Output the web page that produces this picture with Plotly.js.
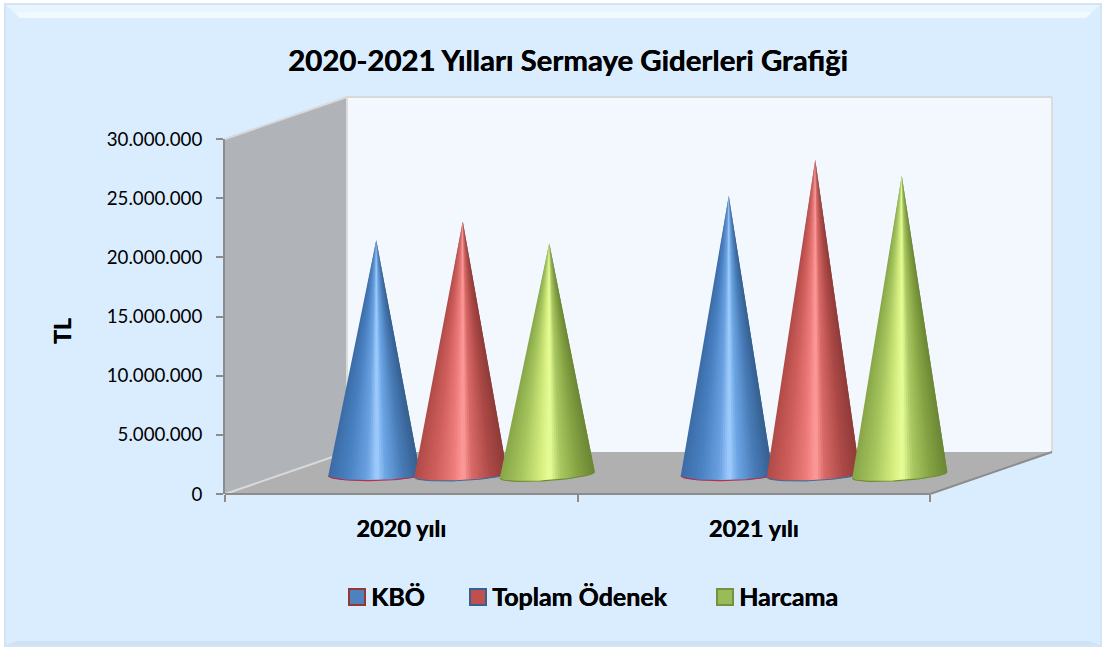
<!DOCTYPE html>
<html><head><meta charset="utf-8">
<script src="https://cdn.plot.ly/plotly-3.0.1.min.js"></script>
<style>html,body{margin:0;padding:0;background:#fff;overflow:hidden}</style>
</head><body><div id="chart" style="width:1103px;height:648px"></div>
<script>
// ---- data ----
const categories = ['2020 yılı', '2021 yılı'];
const seriesNames = ['KBÖ', 'Toplam Ödenek', 'Harcama'];
const kbo = [19850000, 23600000];
const toplamOdenek = [21450000, 26650000];
const harcama = [19600000, 25300000];
const yTicks = [0, 5000000, 10000000, 15000000, 20000000, 25000000, 30000000];

// ---- styling ----
const FONT = 'Lato, Carlito, Calibri, sans-serif';
const HEAVY = '0.4px 0 0 #000';
const seriesValues = [kbo, toplamOdenek, harcama];
const shades = [
  [[0,'#3c6ca6'],[0.22,'#4a82c4'],[0.42,'#6aa2e0'],[0.53,'#a2ceff'],[0.62,'#6ca6e4'],[0.82,'#477ab6'],[1,'#355f8e']],
  [[0,'#b04b48'],[0.22,'#cf5e5b'],[0.42,'#ec7c7b'],[0.53,'#ff9c9c'],[0.62,'#d86a68'],[0.82,'#ad4a47'],[1,'#8e3b39']],
  [[0,'#88a648'],[0.22,'#a6c65e'],[0.42,'#d4ec7e'],[0.53,'#e8ff98'],[0.64,'#aac862'],[0.82,'#86a443'],[1,'#6b8635']]
];
const baseLines = ['#b5304a', '#3f6d9f', '#6f8a38'];
const swatchFill = ['#4f81bd', '#c0504d', '#9bbb59'];
const swatchLine = ['#953735', '#376092', '#76923c'];
const legendX = [349, 470, 717];
const halfWidthPx = [46, 46.5, 47.5];
const tiltPx = [0.8, 2.2, 3.2];
const BANDS = 36;

// axis frame in pixels
const L = 225, R = 930, PR = 955, B = 494, T = 139, W = 1103, H = 648;
const pxPerCat = (R - L) / categories.length;
const pxPerVal = (B - T) / 30000000;
const depthX = 122, depthY = 42;
const px = x => (x - L) / (PR - L), py = y => (B - y) / (B - T);
const path = (pts, close) => 'M' + pts.map(p => px(p[0]) + ',' + py(p[1])).join('L') + (close ? 'Z' : '');
const shp = (pts, fill, extra) => Object.assign({type:'path', xref:'paper', yref:'paper', layer:'below', path:path(pts, true),
  fillcolor:fill, line:{color:'rgba(0,0,0,0)', width:0}}, extra||{});
const edge = (pts, color) => ({type:'path', xref:'paper', yref:'paper', layer:'below', path:path(pts, false),
  line:{color:color, width:2}});
const rectp = (x0,y0,x1,y1,fill) => shp([[x0,y0],[x1,y0],[x1,y1],[x0,y1]], fill);

function hex(c){return [1,3,5].map(i=>parseInt(c.substr(i,2),16));}
function shade(stops,u){
  for(let i=1;i<stops.length;i++){ if(u<=stops[i][0]){
    const a=stops[i-1],b=stops[i],t=(u-a[0])/(b[0]-a[0]),ca=hex(a[1]),cb=hex(b[1]);
    return 'rgb('+ca.map((v,k)=>Math.round(v+(cb[k]-v)*t)).join(',')+')';
  }} return stops[stops.length-1][1];
}

// cones: overlapping wedges from the tip to the front arc of the base, built from values through the axes
const offsetCat = 86.5 / pxPerCat, depthCat = (depthX / 2 - 1.5) / pxPerCat, tipShift = 2 / pxPerCat;
const floorVal = 19 / pxPerVal, semiMinor = 5.6 / pxPerVal;
const traces = [];
seriesNames.forEach((name, s) => {
  const rx = halfWidthPx[s] / pxPerCat, tilt = tiltPx[s] / pxPerVal;
  const arc = (cx, u) => { const v = 2*u-1;
    return [cx + rx*v, floorVal - semiMinor*Math.sqrt(Math.max(0,1-v*v)) + tilt*v]; };
  for (let b = 0; b < BANDS; b++) {
    const xs = [], ys = [], end = Math.min(1, (b+2)/BANDS), start = b/BANDS;
    seriesValues[s].forEach((val, c) => {
      const cx = c + 0.5 + depthCat + (s-1)*offsetCat;
      xs.push(cx + tipShift); ys.push(floorVal + val);
      for (let k = 0; k <= 6; k++) { const p = arc(cx, start + (end-start)*k/6); xs.push(p[0]); ys.push(p[1]); }
      xs.push(cx + tipShift); ys.push(floorVal + val);
      xs.push(null); ys.push(null);
    });
    const col = shade(shades[s], (b+0.5)/BANDS);
    traces.push({type:'scatter', mode:'lines', x:xs, y:ys, fill:'toself', fillcolor:col, name:name,
      line:{color:col, width:0}, showlegend:false, hoverinfo:'skip'});
  }
  const xs = [], ys = [];
  seriesValues[s].forEach((val, c) => {
    const cx = c + 0.5 + depthCat + (s-1)*offsetCat;
    for (let k = 0; k <= 40; k++) { const p = arc(cx, k/40); xs.push(p[0]); ys.push(p[1]); }
    xs.push(null); ys.push(null);
  });
  traces.push({type:'scatter', mode:'lines', x:xs, y:ys, name:name, line:{color:baseLines[s], width:1.1},
    showlegend:false, hoverinfo:'skip'});
});

// chart frame, bevel, walls, floor
const bg = '#daedff';
const x2 = R + depthX, t2 = T - depthY, b2 = B - depthY;
const shapes = [
  rectp(4,3,1102,647,'#d3e4f6'),
  rectp(6,5,1100,645,bg),
  shp([[6,5],[1100,5],[1086,18],[20,18]],'#e6f5ff'),
  shp([[14,12],[1092,12],[1086,18],[20,18]],'#eefaff'),
  shp([[6,645],[1100,645],[1088,641],[18,641]],'#cfe2f4'),
  shp([[L,T],[L+depthX,t2],[L+depthX,b2],[L,B]],'#b0b3b7'),
  shp([[L+depthX,t2],[x2,t2],[x2,b2],[L+depthX,b2]],'#f3f8fe'),
  shp([[L,B],[L+depthX,b2],[x2,b2],[R,B]],'#b0b0b0'),
  edge([[L,T],[L+depthX,t2],[x2,t2]],'#d9d9d9'),
  edge([[L+depthX,t2],[L+depthX,b2]],'#dcdcdc'),
  edge([[x2,t2],[x2,b2]],'#dcdcdc'),
  edge([[L,B],[L+depthX,b2]],'#d9d9d9'),
  edge([[L,B],[R,B]],'#8c8c8c'),
  edge([[R,B],[x2,b2]],'#8c8c8c')
];

const annotations = [{xref:'paper', yref:'paper', x:px(62), y:py(331), text:'<b>TL</b>', textangle:-90, showarrow:false,
  font:{family:FONT, size:23, color:'#000', shadow:HEAVY}, xanchor:'center', yanchor:'middle'}];
seriesNames.forEach((name,s)=>{
  shapes.push(Object.assign(shp([[legendX[s],589],[legendX[s]+16,589],[legendX[s]+16,605],[legendX[s],605]],swatchFill[s]),
    {layer:'above', line:{color:swatchLine[s], width:2}}));
  annotations.push({xref:'paper', yref:'paper', x:px(legendX[s]+23), y:py(596), text:'<b>'+name+'</b>', showarrow:false,
    xanchor:'left', yanchor:'middle', xshift:-3, font:{family:FONT, size:25, color:'#000', shadow:HEAVY}});
});

const layout = {
  width:W, height:H, paper_bgcolor:'#ffffff', plot_bgcolor:'rgba(0,0,0,0)', showlegend:false, separators:',.',
  margin:{l:L, r:W-PR, t:T, b:H-B, pad:0}, hovermode:false,
  title:{text:'<b>2020-2021 Yılları Sermaye Giderleri Grafiği</b>', x:568/W, xref:'container', xanchor:'center',
    y:1-61/H, yref:'container', yanchor:'middle', font:{family:FONT, size:29.4, color:'#000', shadow:HEAVY}},
  xaxis:{range:[0,(PR-L)/pxPerCat], tickvals:[0.5,1.5], ticktext:categories, ticks:'', ticklen:0, ticklabelstandoff:18,
    showgrid:false, zeroline:false, showline:false,
    minor:{tickvals:[0,1,2], ticks:'outside', ticklen:7, tickwidth:2, tickcolor:'#8c8c8c', showgrid:false},
    tickfont:{family:FONT, size:23.5, color:'#000', weight:'bold', shadow:HEAVY}},
  yaxis:{range:[0,30000000], tickvals:yTicks, tickformat:',.0f', ticks:'outside', ticklen:7, tickwidth:2, tickcolor:'#8c8c8c',
    ticklabelstandoff:10, showgrid:false, zeroline:false, showline:true, linecolor:'#8c8c8c', linewidth:2,
    tickfont:{family:FONT, size:18.7, color:'#000'}},
  shapes:shapes, annotations:annotations
};
Plotly.newPlot('chart', traces, layout, {displayModeBar:false, staticPlot:true});
</script></body></html>
